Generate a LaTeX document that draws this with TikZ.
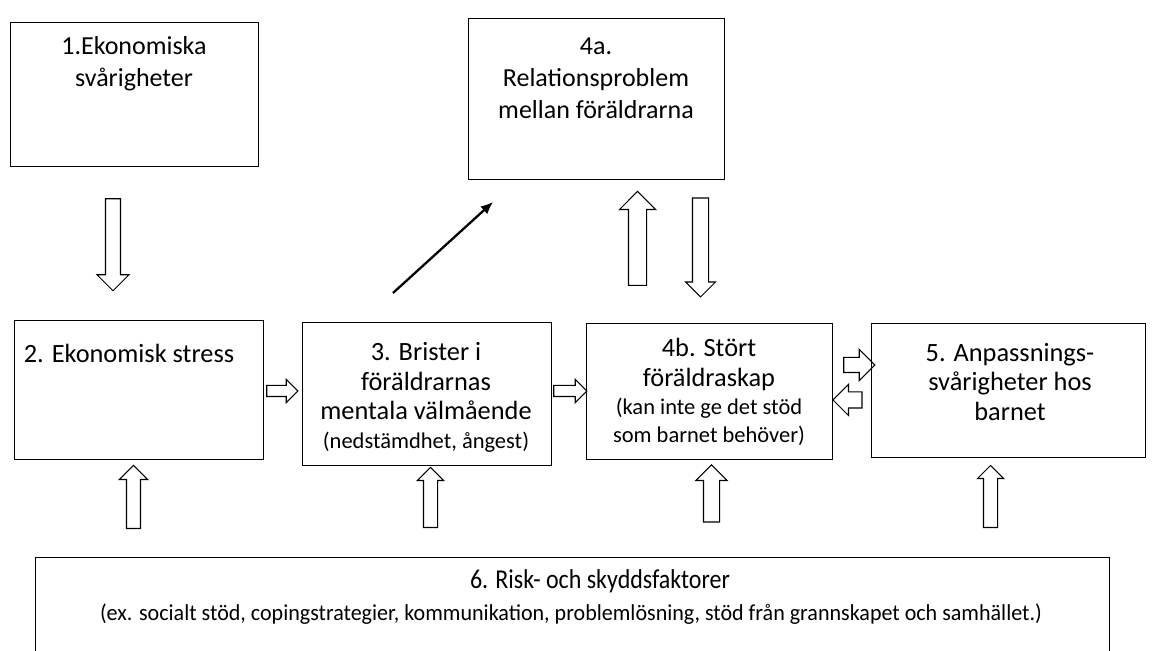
\documentclass[tikz,border=0pt]{standalone}
\usepackage{fontspec}
\setmainfont{Carlito}
\usepackage{graphicx}
\usepackage{tikz}
\usetikzlibrary{shapes.arrows}
\usetikzlibrary{arrows.meta}

\newcommand{\smalltext}{\fontsize{12.8}{15}\selectfont}

\tikzset{
  box/.style={draw=black, line width=0.75pt, anchor=north west, inner sep=0pt},
  hollow/.style args={#1/#2/#3}{single arrow, draw=black, line width=0.6pt,
    inner xsep=0pt, inner ysep=#2, minimum height=#1, minimum width=0pt,
    single arrow head extend=#3, single arrow head indent=0pt,
    single arrow tip angle=90},
  toptext/.style={align=center, inner sep=0pt, font=\fontsize{14.8}{18.2}\selectfont},
  midtext/.style={align=center, inner sep=0pt, font=\fontsize{15}{17}\selectfont}
}

\begin{document}
\begin{tikzpicture}[x=0.02cm, y=-0.02cm]
		\useasboundingbox (0,0) rectangle (1154,651);
		\clip (0,0) rectangle (1154,651);
		
		% boxes
		\node[box, minimum width=4.96cm, minimum height=2.88cm] (b1) at (10,22) {};
		\node[box, minimum width=5.12cm, minimum height=3.22cm] (b4a) at (468,18) {};
		\node[box, minimum width=4.98cm, minimum height=2.78cm] (b2) at (14,320) {};
		\node[box, minimum width=4.98cm, minimum height=2.86cm] (b3) at (302,322) {};
		\node[box, minimum width=4.92cm, minimum height=2.72cm] (b4b) at (586,323) {};
		\node[box, minimum width=5.48cm, minimum height=2.68cm] (b5) at (871,323) {};
		\node[box, minimum width=21.48cm, minimum height=2.4cm] (b6) at (35,557) {};
		
		% texts
		\node[toptext] (t1) at (134,64) {1.Ekonomiska\\svårigheter};
		\node[toptext] (t4a) at (596,78) {4a.\\Relationsproblem\\mellan föräldrarna};
		\node[midtext] (t2) at (129,353) {2. Ekonomisk stress};
		\node[midtext] (t3) at (426,397) {3. Brister i\\föräldrarnas\\mentala välmående\\[-1pt]{\smalltext (nedstämdhet, ångest)}};
		\node[midtext] (t4b) at (709,392) {4b. Stört\\föräldraskap\\[-1.5pt]{\smalltext (kan inte ge det stöd}\\[-1pt]{\smalltext som barnet behöver)}};
		\node[midtext] (t5) at (1010,382) {5. Anpassnings-\\svårigheter hos\\barnet};
		\node (t6a) at (600,581) {\resizebox{5.2cm}{\height}{\fontsize{15.5}{18}\selectfont 6. Risk- och skyddsfaktorer}};
		\node (t6b) at (571,614) {\resizebox{18.84cm}{\height}{\fontsize{13}{15}\selectfont (ex. socialt stöd, copingstrategier, kommunikation, problemlösning, stöd från grannskapet och samhället.)}};
		
		% hollow arrows
		\node[hollow=1.84cm/0.14cm/0.17cm, rotate=-90] (a12) at (113,241) {};
		\node[hollow=1.88cm/0.17cm/0.18cm, rotate=90] (a4up) at (637.5,243) {};
		\node[hollow=1.98cm/0.15cm/0.14cm, rotate=-90] (a4down) at (700.5,243.5) {};
		\node[hollow=0.62cm/0.10cm/0.12cm] (a23) at (279.5,391) {};
		\node[hollow=0.66cm/0.10cm/0.12cm] (a34) at (567.5,391) {};
		\node[hollow=0.62cm/0.14cm/0.16cm] (a45) at (855.5,365) {};
		\node[hollow=0.58cm/0.15cm/0.15cm, rotate=180] (a54) at (851.5,400) {};
		\node[hollow=1.26cm/0.13cm/0.14cm, rotate=90] (a62) at (133.5,500.5) {};
		\node[hollow=1.20cm/0.13cm/0.12cm, rotate=90] (a63) at (430.5,501) {};
		\node[hollow=1.14cm/0.15cm/0.15cm, rotate=90] (a64) at (711.5,497.5) {};
		\node[hollow=1.24cm/0.13cm/0.12cm, rotate=90] (a65) at (990.5,500) {};
		
		% black arrow
		\coordinate (tail) at (393,293);
		\coordinate (tip) at (493,202);
		\draw [-{Latex[length=7pt,width=6pt]}, line width=1.3pt] (tail) -- (tip);
	\end{tikzpicture}
\end{document}
